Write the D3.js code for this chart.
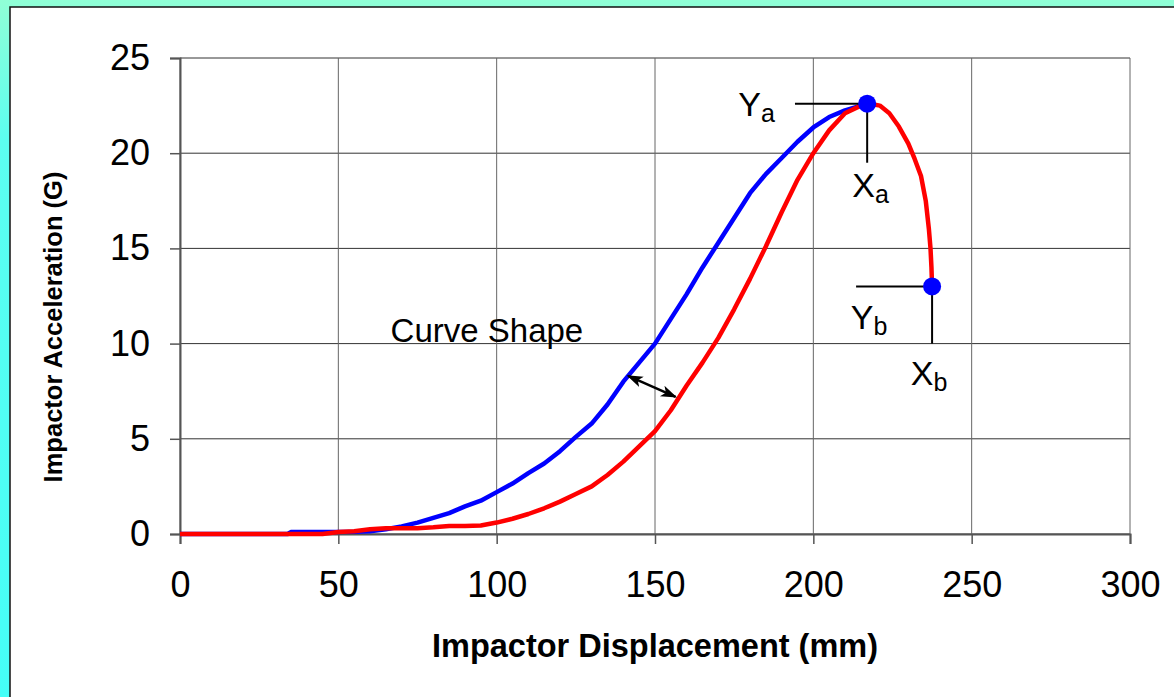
<!DOCTYPE html>
<html><head><meta charset="utf-8">
<script src="https://cdn.jsdelivr.net/npm/d3@7"></script>
<style>
html,body{margin:0;padding:0;overflow:hidden;}
svg text{font-family:"Liberation Sans",Arial,sans-serif;}
</style></head>
<body>
<svg id="chart" width="1174" height="697"></svg>
<script>
// ---- data ----
const xTicks = [0, 50, 100, 150, 200, 250, 300];
const yTicks = [0, 5, 10, 15, 20, 25];
const blueX = [0, 34, 35, 45, 55, 60, 65, 70, 75, 80, 85, 90, 95, 100, 105, 110, 115, 120, 125, 130, 135, 140, 145, 150, 155, 160, 165, 170, 175, 180, 185, 190, 195, 200, 205, 210, 214, 217];
const blueY = [0, 0, 0.1, 0.1, 0.12, 0.15, 0.25, 0.4, 0.6, 0.85, 1.1, 1.45, 1.75, 2.2, 2.65, 3.2, 3.7, 4.35, 5.1, 5.8, 6.8, 8.0, 9.0, 10.0, 11.3, 12.6, 14.0, 15.3, 16.6, 17.9, 18.9, 19.75, 20.6, 21.35, 21.9, 22.25, 22.45, 22.6];
const redX = [0, 45, 50, 55, 60, 65, 70, 75, 80, 85, 90, 95, 100, 105, 110, 115, 120, 125, 130, 135, 140, 145, 150, 155, 160, 165, 170, 175, 180, 185, 190, 195, 200, 205, 210, 215, 218, 221, 224, 227, 230, 232, 234, 235.5, 236.5, 237, 237.3, 237.5];
const redY = [0, 0, 0.1, 0.15, 0.25, 0.3, 0.3, 0.3, 0.35, 0.42, 0.42, 0.45, 0.6, 0.8, 1.05, 1.35, 1.7, 2.1, 2.5, 3.1, 3.8, 4.6, 5.4, 6.5, 7.8, 9.0, 10.3, 11.8, 13.4, 15.1, 16.9, 18.6, 20.0, 21.2, 22.1, 22.5, 22.6, 22.5, 22.1, 21.4, 20.5, 19.7, 18.8, 17.5, 16.0, 15.0, 14.0, 13.0];
const pointA = [217, 22.6];
const pointB = [237.5, 13.0];
const arrowFrom = [141.5, 8.3];
const arrowTo = [156.5, 7.2];

const svg = d3.select("#chart");
// background
const defs = svg.append("defs");
const grad = defs.append("linearGradient").attr("id","bg").attr("x1",0).attr("y1",0).attr("x2",0).attr("y2",1);
grad.append("stop").attr("offset","0%").attr("stop-color","#90ffd6");
grad.append("stop").attr("offset","20%").attr("stop-color","#5cfff0");
grad.append("stop").attr("offset","100%").attr("stop-color","#45fff8");
svg.append("rect").attr("width",1174).attr("height",697).attr("fill","url(#bg)");
svg.append("rect").attr("x",10).attr("y",7).attr("width",1180).attr("height",700)
  .attr("fill","#fff").attr("stroke","#111").attr("stroke-width",1.5);

const x = d3.scaleLinear().domain([0,300]).range([180,1130]);
const y = d3.scaleLinear().domain([0,25]).range([534,58]);

// grid
svg.append("g").selectAll("line").data(yTicks).join("line")
  .attr("x1",x(0)).attr("x2",x(300)).attr("y1",d=>y(d)).attr("y2",d=>y(d))
  .attr("stroke","#333").attr("stroke-width",1);
svg.append("g").selectAll("line").data(xTicks).join("line")
  .attr("y1",y(0)).attr("y2",y(25)).attr("x1",d=>x(d)).attr("x2",d=>x(d))
  .attr("stroke","#666").attr("stroke-width",1);

// axes
const xAxis = svg.append("g").attr("transform",`translate(0,${y(0)})`)
  .call(d3.axisBottom(x).tickValues(xTicks).tickSize(10).tickPadding(27).tickFormat(d3.format("d")));
const yAxis = svg.append("g").attr("transform",`translate(${x(0)},0)`)
  .call(d3.axisLeft(y).tickValues(yTicks).tickSize(10).tickPadding(20).tickFormat(d3.format("d")));
[xAxis,yAxis].forEach(g=>{
  g.select(".domain").attr("stroke","#555").attr("stroke-width",2);
  g.selectAll(".tick line").attr("stroke","#555").attr("stroke-width",1.5);
  g.selectAll(".tick text").attr("font-size",36).attr("fill","#000")
    .attr("font-family","'Liberation Sans',Arial,sans-serif");
});

// titles
svg.append("text").attr("x",655).attr("y",657).attr("text-anchor","middle")
  .attr("font-size",32.5).attr("font-weight","bold").text("Impactor Displacement (mm)");
svg.append("text").attr("transform","translate(62,327) rotate(-90)").attr("text-anchor","middle")
  .attr("font-size",25.5).attr("font-weight","bold").text("Impactor Acceleration (G)");

// curves
const line = d3.line().x(d=>x(d[0])).y(d=>y(d[1]));
svg.append("path").datum(blueX.map((v,i)=>[v,blueY[i]])).attr("d",line)
  .attr("fill","none").attr("stroke","#0000ff").attr("stroke-width",4.5).attr("stroke-linejoin","round");
svg.append("path").datum(redX.map((v,i)=>[v,redY[i]])).attr("d",line)
  .attr("fill","none").attr("stroke","#ff0000").attr("stroke-width",4.5).attr("stroke-linejoin","round");

// annotation lines
const ann = [
  [[194.2, pointA[1]],[pointA[0], pointA[1]]],
  [[pointA[0], pointA[1]],[pointA[0], 19.5]],
  [[213.5, pointB[1]],[pointB[0], pointB[1]]],
  [[pointB[0], pointB[1]],[pointB[0], 10]]
];
svg.append("g").selectAll("line").data(ann).join("line")
  .attr("x1",d=>x(d[0][0])).attr("y1",d=>y(d[0][1])).attr("x2",d=>x(d[1][0])).attr("y2",d=>y(d[1][1]))
  .attr("stroke","#000").attr("stroke-width",2);

svg.append("g").selectAll("circle").data([pointA,pointB]).join("circle")
  .attr("cx",d=>x(d[0])).attr("cy",d=>y(d[1])).attr("r",9).attr("fill","#0000ff");

// labels
const labels = [
  {t:"Y", s:"a", px:176.3, py:21.95},
  {t:"X", s:"a", px:212.3, py:17.7},
  {t:"Y", s:"b", px:211.8, py:10.75},
  {t:"X", s:"b", px:230.8, py:7.8}
];
labels.forEach(l=>{
  const t = svg.append("text").attr("x",x(l.px)).attr("y",y(l.py)).attr("font-size",34).attr("fill","#000");
  t.append("tspan").text(l.t);
  t.append("tspan").attr("font-size",25).attr("dy",6).text(l.s);
});
svg.append("text").attr("x",x(66.5)).attr("y",y(10.1)).attr("font-size",33).attr("fill","#000").text("Curve Shape");

// double arrow
const mk = defs.append("marker").attr("id","ah").attr("viewBox","0 0 10 10").attr("refX",9).attr("refY",5)
  .attr("markerWidth",6.5).attr("markerHeight",6.5).attr("orient","auto-start-reverse").attr("markerUnits","strokeWidth");
mk.append("path").attr("d","M0,1.5 L10,5 L0,8.5 L2.5,5 Z").attr("fill","#000");
svg.append("line").attr("x1",x(arrowFrom[0])).attr("y1",y(arrowFrom[1])).attr("x2",x(arrowTo[0])).attr("y2",y(arrowTo[1]))
  .attr("stroke","#000").attr("stroke-width",2.5).attr("marker-start","url(#ah)").attr("marker-end","url(#ah)");
</script>
</body></html>
